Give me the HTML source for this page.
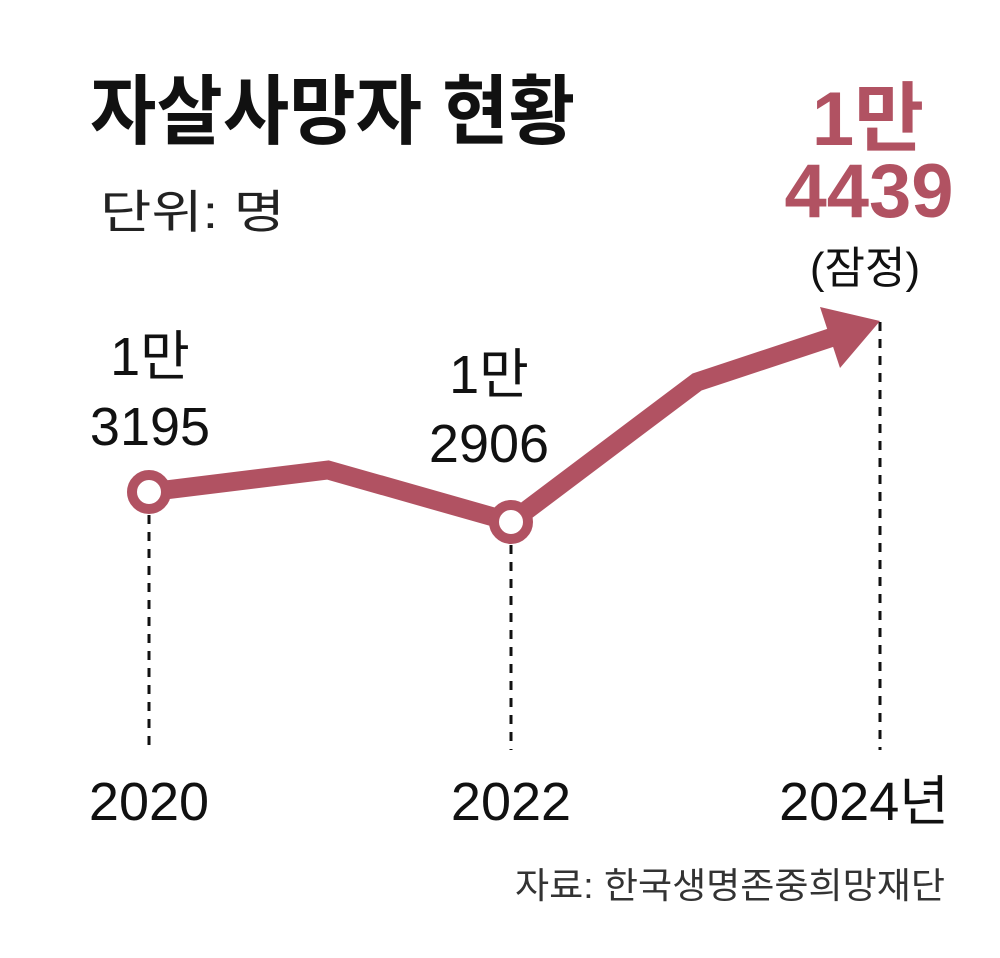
<!DOCTYPE html>
<html><head><meta charset="utf-8"><style>
html,body{margin:0;padding:0;background:#fff;}
svg text{font-family:"Liberation Sans","Noto Sans CJK KR",sans-serif;}
</style></head><body>
<svg width="1000" height="953" viewBox="0 0 1000 953" xmlns="http://www.w3.org/2000/svg">
<text x="90" y="138" font-size="76" font-weight="bold" fill="#111" textLength="485" lengthAdjust="spacingAndGlyphs">자살사망자 현황</text>
<text x="100" y="228" font-size="46" fill="#222" textLength="185" lengthAdjust="spacingAndGlyphs">단위: 명</text>
<g stroke="#111" stroke-width="3" stroke-dasharray="9,8">
<line x1="149" y1="515" x2="149" y2="750"/>
<line x1="511" y1="545" x2="511" y2="750"/>
<line x1="880" y1="322" x2="880" y2="750"/>
</g>
<polyline points="149,492 328,470 511,522 697,382 845,333" fill="none" stroke="#b15262" stroke-width="19" stroke-linejoin="miter"/>
<polygon points="820,307 880,321 840,368" fill="#b15262"/>
<circle cx="149" cy="492" r="17" fill="#fff" stroke="#b15262" stroke-width="10"/>
<circle cx="511" cy="522" r="17" fill="#fff" stroke="#b15262" stroke-width="10"/>
<g font-size="54" fill="#111" text-anchor="middle">
<text x="150" y="375">1만</text>
<text x="150" y="445">3195</text>
<text x="489" y="393">1만</text>
<text x="489" y="462">2906</text>
<text x="149" y="820">2020</text>
<text x="511" y="820">2022</text>
<text x="864" y="820">2024년</text>
</g>
<g font-size="76" font-weight="bold" fill="#b15262" text-anchor="middle">
<text x="868" y="145">1만</text>
<text x="869" y="217">4439</text>
</g>
<text x="865" y="283" font-size="44" fill="#111" text-anchor="middle">(잠정)</text>
<text x="515" y="898" font-size="36" fill="#333" textLength="430" lengthAdjust="spacingAndGlyphs">자료: 한국생명존중희망재단</text>
</svg>
</body></html>
